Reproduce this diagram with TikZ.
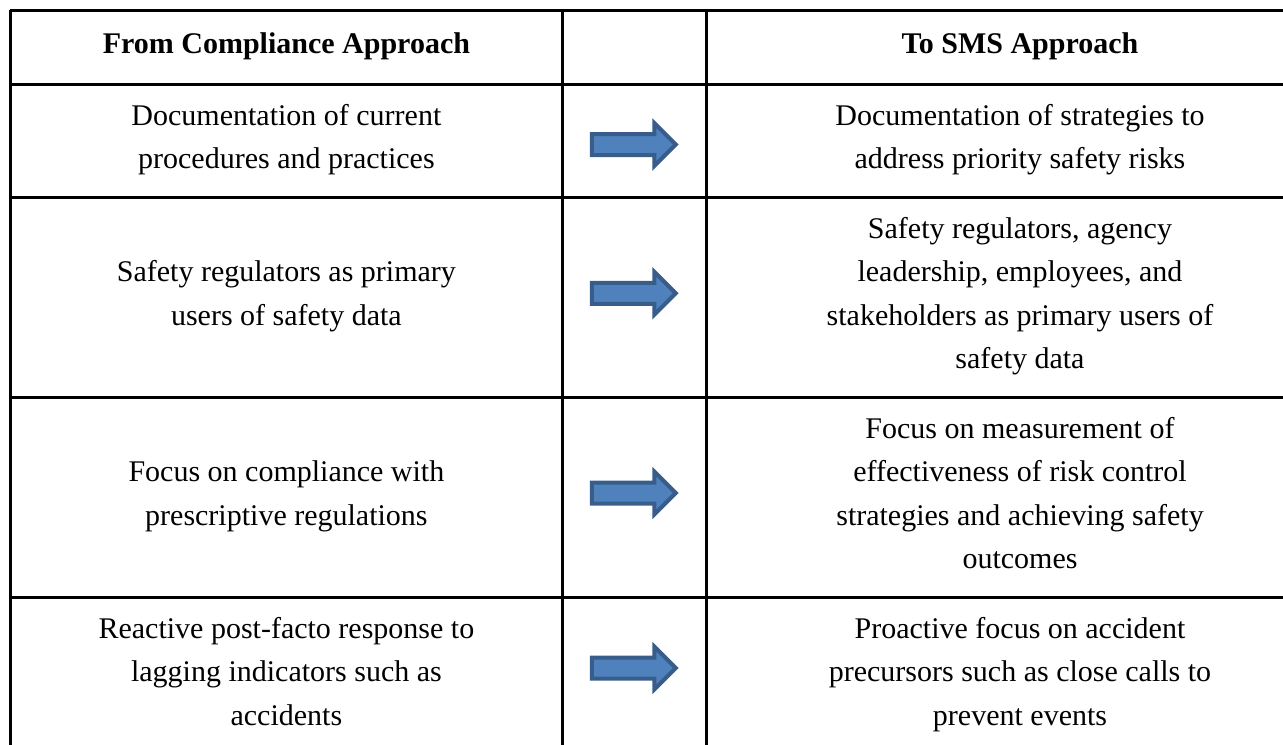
\documentclass[tikz,border=0pt]{standalone}
\usepackage{fontspec}
\setmainfont{Liberation Serif}
\usetikzlibrary{shapes.arrows}
\definecolor{arrowfill}{HTML}{4F81BD}
\definecolor{arrowline}{HTML}{385D8A}
\tikzset{
  cell/.style={align=center, inner sep=0pt, font=\fontsize{15}{21.75}\selectfont},
  headcell/.style={cell, font=\fontsize{15}{21.75}\selectfont\bfseries},
  shiftarrow/.style={single arrow, draw=arrowline, fill=arrowfill, line width=2pt,
    inner sep=0pt, inner ysep=4.25pt, minimum height=42pt, minimum width=19.5pt,
    single arrow head extend=5.5pt},
  rule/.style={line width=1.5pt}
}
\begin{document}
\begin{tikzpicture}[x=0.5pt, y=-0.5pt]
  \clip (0,0) rectangle (1283,744);
  % header
  \draw
    (286.4,46.25) node[headcell] (from) {From Compliance Approach}
    (1020,46.25) node[headcell] (to) {To SMS Approach};
  % left column
  \draw
    (286.4,139.75) node[cell] (l1) {Documentation of current\\procedures and practices}
    (286.4,296.25) node[cell] (l2) {Safety regulators as primary\\users of safety data}
    (286.4,496.25) node[cell] (l3) {Focus on compliance with\\prescriptive regulations}
    (286.4,671.25) node[cell] (l4) {Reactive post-facto response to\\lagging indicators such as\\accidents};
  % right column
  \draw
    (1020,139.75) node[cell] (r1) {Documentation of strategies to\\address priority safety risks}
    (1020,296.25) node[cell] (r2) {Safety regulators, agency\\leadership, employees, and\\stakeholders as primary users of\\safety data}
    (1020,493) node[cell] (r3) {Focus on measurement of\\effectiveness of risk control\\strategies and achieving safety\\outcomes}
    (1020,674.5) node[cell] (r4) {Proactive focus on accident\\precursors such as close calls to\\prevent events};
  % arrows
  \draw
    (628.5,144.5) node[shiftarrow] (a1) {}
    (628.5,293.3) node[shiftarrow] (a2) {}
    (628.5,493) node[shiftarrow] (a3) {}
    (628.5,668) node[shiftarrow] (a4) {};
  \begin{scope}[rule]
    \draw (10,10) -- (1335,10);
    \draw (10,84) -- (1335,84);
    \draw (10,197) -- (1335,197);
    \draw (10,397) -- (1335,397);
    \draw (10,597) -- (1335,597);
    \draw (10,753.5) -- (1335,753.5);
    \draw (10,10) -- (10,753.5);
    \draw (562.7,10) -- (562.7,753.5);
    \draw (706.7,10) -- (706.7,753.5);
    \draw (1335,10) -- (1335,753.5);
  \end{scope}
\end{tikzpicture}
\end{document}
